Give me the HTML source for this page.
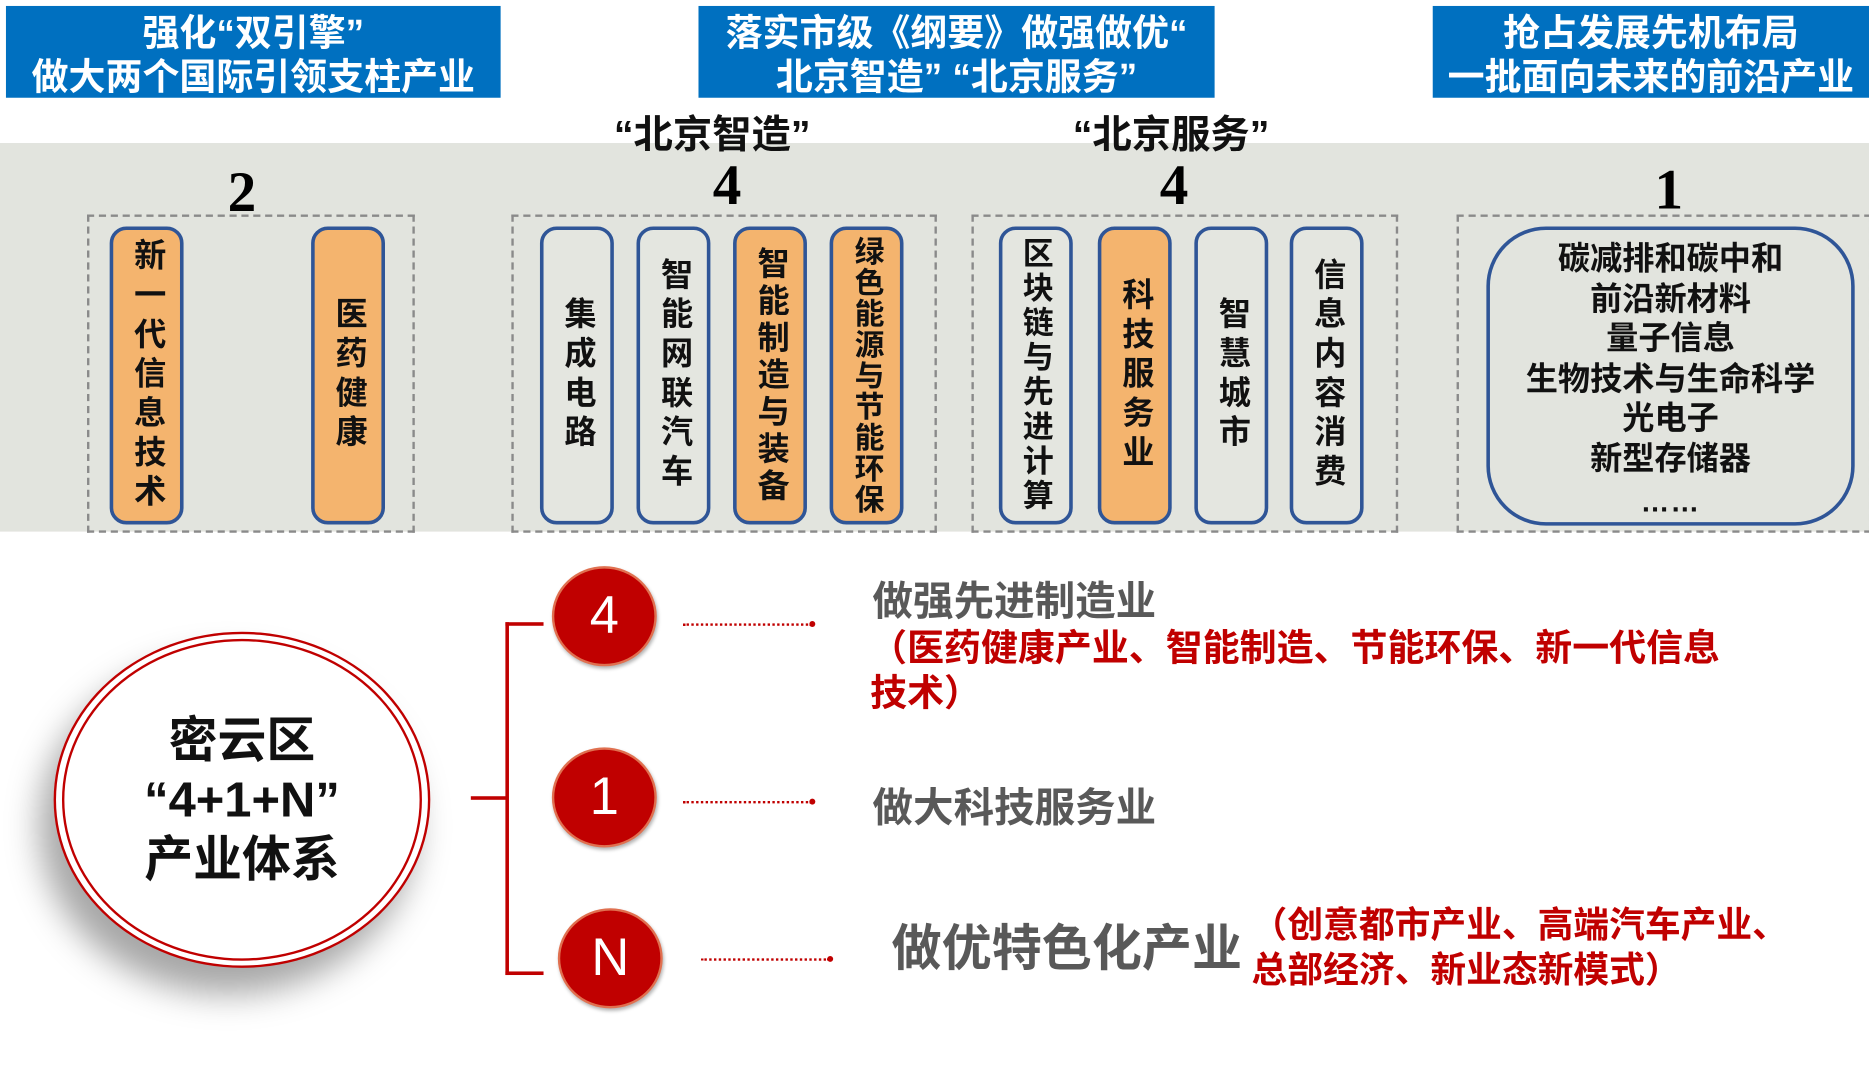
<!DOCTYPE html>
<html><head><meta charset="utf-8"><style>
html,body{margin:0;padding:0;width:1869px;height:1075px;overflow:hidden;background:#fff}
#s{position:absolute;left:0;top:0;width:1568px;height:902px;transform:scale(1.19196);transform-origin:0 0;font-family:"Liberation Sans","Noto Sans CJK SC",sans-serif;font-weight:bold}
.a{position:absolute}
.blue{background:#0070C0;color:#fff;text-align:center;font-size:31px;line-height:37px;padding-top:4px;box-sizing:border-box;overflow:hidden;white-space:nowrap}
.dash{border:2px dashed #8a8a8a;box-sizing:border-box}
.pill{position:absolute;top:190px;width:62px;height:250px;border:3px solid #2F5597;border-radius:14px;box-sizing:border-box;background:#E4E6E0;font-size:27px;line-height:33px;letter-spacing:6px;text-align:center;writing-mode:vertical-rl;display:flex;align-items:center;justify-content:center;color:#111;overflow:hidden;white-space:nowrap}
.o{background:#F4B46E}
.num{font-family:"Liberation Serif",serif;font-size:48px;color:#000;transform:translateX(-50%)}
.rc{position:absolute;background:#C00000;border:2px solid #E07050;border-radius:50%;color:#fff;font-size:44px;font-weight:normal;display:flex;align-items:center;justify-content:center;box-shadow:1px 2px 3px rgba(0,0,0,.3)}
.dl{position:absolute;height:0;border-top:2px dotted #C00000}
.dot{position:absolute;width:5px;height:5px;border-radius:50%;background:#C00000}
</style></head><body><div id="s">
<div class="a blue" style="left:5px;top:5px;width:415px;height:77px">强化“双引擎”<br>做大两个国际引领支柱产业</div>
<div class="a blue" style="left:586px;top:5px;width:433px;height:77px">落实市级《纲要》做强做优“<br>北京智造” “北京服务”</div>
<div class="a blue" style="left:1202px;top:5px;width:366px;height:77px">抢占发展先机布局<br>一批面向未来的前沿产业</div>
<div class="a" style="left:0;top:120px;width:1568px;height:326px;background:#E2E4DE"></div>
<div class="a" style="left:515px;top:86px;font-size:33px;color:#111">“北京智造”</div>
<div class="a" style="left:900px;top:86px;font-size:33px;color:#111">“北京服务”</div>
<div class="a num" style="left:203px;top:134px">2</div>
<div class="a num" style="left:610px;top:128px">4</div>
<div class="a num" style="left:985px;top:128px">4</div>
<div class="a num" style="left:1400px;top:132px">1</div>
<div class="a dash" style="left:73px;top:180px;width:275px;height:267px"></div>
<div class="a dash" style="left:429px;top:180px;width:357px;height:267px"></div>
<div class="a dash" style="left:815px;top:180px;width:358px;height:267px"></div>
<div class="a dash" style="left:1222px;top:180px;width:348px;height:267px"></div>
<div class="pill o" style="left:92px">新一代信息技术</div>
<div class="pill o" style="left:261px">医药健康</div>
<div class="pill" style="left:453px">集成电路</div>
<div class="pill" style="left:534px">智能网联汽车</div>
<div class="pill o" style="left:615px;letter-spacing:4px">智能制造与装备</div>
<div class="pill o" style="left:696px;letter-spacing:1px;font-size:25px">绿色能源与节能环保</div>
<div class="pill" style="left:838px;letter-spacing:3px;font-size:26px">区块链与先进计算</div>
<div class="pill o" style="left:921px">科技服务业</div>
<div class="pill" style="left:1002px">智慧城市</div>
<div class="pill" style="left:1082px">信息内容消费</div>
<div class="a" style="left:1247px;top:190px;width:309px;height:251px;border:3px solid #2F5597;border-radius:50px;box-sizing:border-box;text-align:center;font-size:27px;line-height:33.5px;color:#111;padding-top:8px;white-space:nowrap">碳减排和碳中和<br>前沿新材料<br>量子信息<br>生物技术与生命科学<br>光电子<br>新型存储器<br><span style="letter-spacing:1px;line-height:40px;font-size:24px">……</span></div>
<div class="a" style="left:45px;top:530px;width:316px;height:282px;border-radius:50%;background:#fff;border:2px solid #C00000;box-shadow:-12px 22px 28px rgba(0,0,0,.35);box-sizing:border-box"></div>
<div class="a" style="left:52px;top:536px;width:302px;height:270px;border-radius:50%;border:2px solid #C00000;box-sizing:border-box;display:flex;align-items:center;justify-content:center;text-align:center;font-size:41px;line-height:50px;color:#111">密云区<br>“4+1+N”<br>产业体系</div>
<div class="a" style="left:424px;top:522px;width:3px;height:296px;background:#C00000"></div>
<div class="a" style="left:424px;top:522px;width:32px;height:3px;background:#C00000"></div>
<div class="a" style="left:424px;top:815px;width:32px;height:3px;background:#C00000"></div>
<div class="a" style="left:395px;top:668px;width:30px;height:3px;background:#C00000"></div>
<div class="rc" style="left:463px;top:475px;width:84px;height:80px">4</div>
<div class="rc" style="left:463px;top:627px;width:84px;height:80px">1</div>
<div class="rc" style="left:468px;top:762px;width:84px;height:80px">N</div>
<div class="dl" style="left:573px;top:523px;width:108px"></div><div class="dot" style="left:679px;top:521px"></div>
<div class="dl" style="left:573px;top:672px;width:108px"></div><div class="dot" style="left:679px;top:670px"></div>
<div class="dl" style="left:588px;top:804px;width:108px"></div><div class="dot" style="left:694px;top:802px"></div>
<div class="a" style="left:732px;top:477px;font-size:34px;color:#595959">做强先进制造业</div>
<div class="a" style="left:730px;top:525px;font-size:31px;line-height:38px;color:#C00000;width:760px">（医药健康产业、智能制造、节能环保、新一代信息<br>技术）</div>
<div class="a" style="left:732px;top:650px;font-size:34px;color:#595959">做大科技服务业</div>
<div class="a" style="left:748px;top:762px;font-size:42px;color:#595959">做优特色化产业</div>
<div class="a" style="left:1050px;top:758px;font-size:30px;line-height:38px;color:#C00000;white-space:nowrap">（创意都市产业、高端汽车产业、<br>总部经济、新业态新模式）</div>
</div></body></html>
